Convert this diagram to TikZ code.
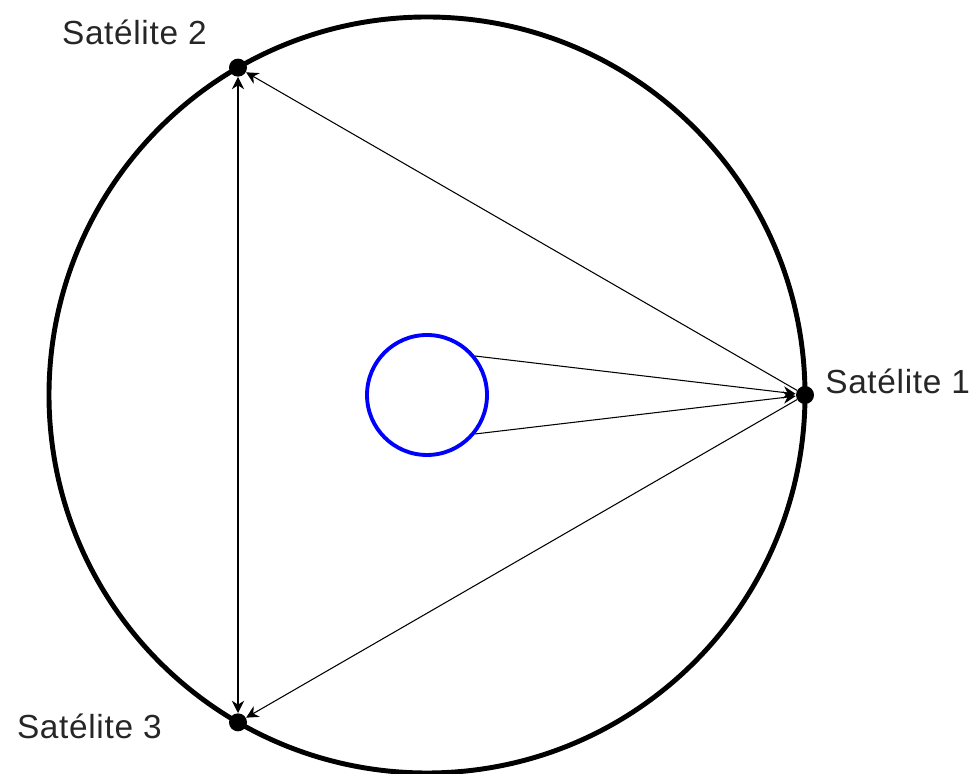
\documentclass[tikz,border=0pt]{standalone}
\usepackage{fontspec}
\setmainfont{Liberation Sans}[LetterSpace=2]
\usetikzlibrary{arrows.meta}
\usetikzlibrary{calc}
\tikzstyle{sat} = [circle, fill=black, inner sep=0pt, minimum size=0.36cm]
\tikzstyle{lbl} = [font=\fontsize{19}{22}\selectfont, inner sep=0pt, text=black!85]
\tikzstyle{link} = [line width=0.6pt, >={Stealth[length=7pt,width=7pt]}]

\begin{document}
\begin{tikzpicture}
				\useasboundingbox (0,0) rectangle (19.54,15.48);
				\coordinate (c) at (8.54,7.58);
				%%%%%%%%%%%%%%%%%%%%%%%%%%%%%%%%%%
				\draw[line width=2.8pt] (c) circle[radius=7.56];
				\node (earth) [circle, draw=blue, line width=2.2pt, minimum size=2.4cm, inner sep=0pt] at (c) {};
				\node (s1) [sat] at ($(c)+(0:7.56)$) {};
				\node (s2) [sat] at ($(c)+(120:7.56)$) {};
				\node (s3) [sat] at ($(c)+(240:7.56)$) {};
				%%%%%%%%%%%%%%%%%%%%%%%%%%%%%%%%%%
				\node (l1) [lbl, anchor=base west] at ($(s1)+(0.4,0.03)$) {Satélite 1};
				\node (l2) [lbl, anchor=base east] at ($(s2)+(-0.62,0.46)$) {Satélite 2};
				\node (l3) [lbl, anchor=base east] at ($(s3)+(-1.52,-0.32)$) {Satélite 3};
				%%%%%%%%%%%%%%%%%%%%%%%%%%%%%%%%%%
				\draw[link,->] (s1) -- (s2);
				\draw[link,->] (s1) -- (s3);
				\draw[link,<->] (s2) -- (s3);
				\draw[link,->] (earth.39) -- (s1);
				\draw[link,->] (earth.-39) -- (s1);
			\end{tikzpicture}
\end{document}
